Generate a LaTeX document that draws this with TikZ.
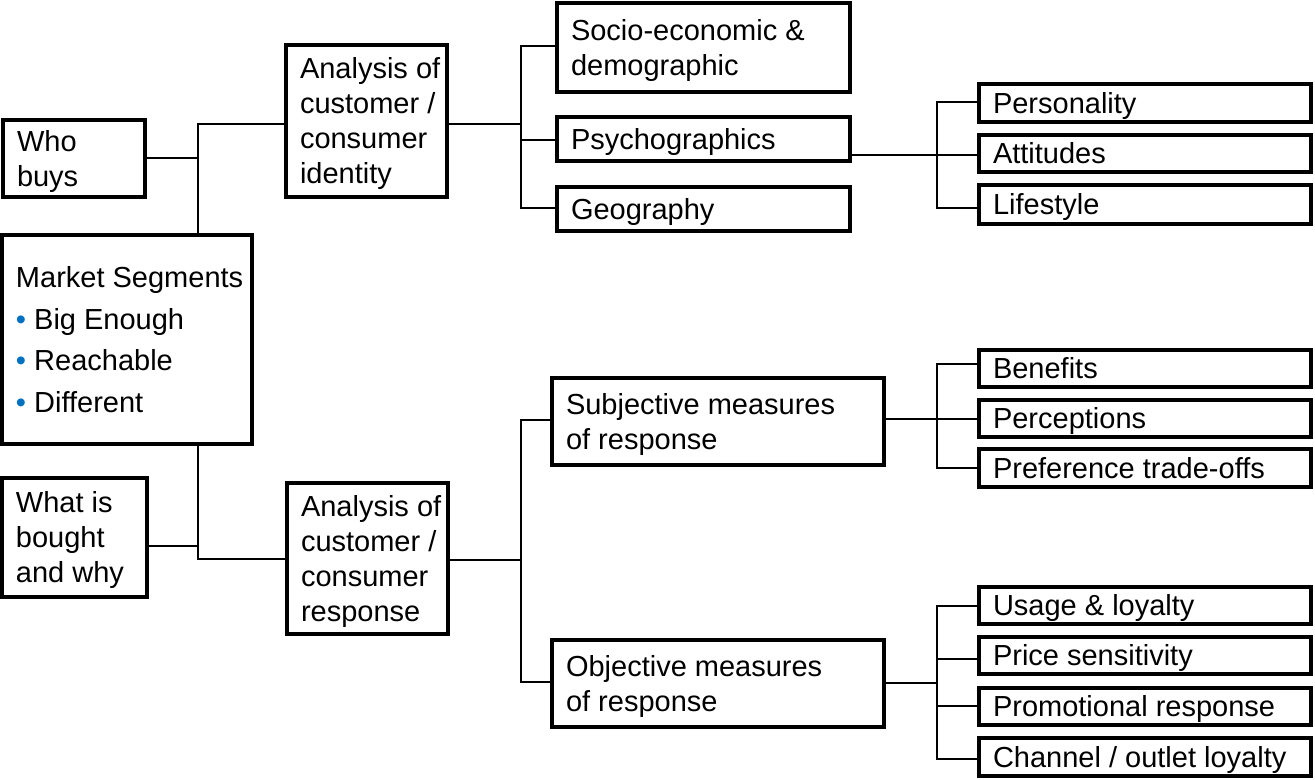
\documentclass[tikz,border=0pt]{standalone}
\usepackage{fontspec}
\setmainfont{Liberation Sans}
\definecolor{bulletblue}{HTML}{0070C0}
\newcommand\fs{\fontsize{21.75pt}{26.25pt}\selectfont}
\newcommand\fsm{\fontsize{21.75pt}{31.1pt}\selectfont}
\newcommand\lt[1]{\rule{0pt}{0.95em}#1\rule[-0.234em]{0pt}{0.234em}}
\tikzset{
  box/.style={draw=black, line width=3pt, fill=white, inner sep=0pt, outer sep=1.5pt},
  txt/.style={anchor=west, inner sep=0pt, outer sep=0pt, align=left, font=\fs},
  conn/.style={draw=black, line width=1.5pt},
  bul/.style={text=bulletblue}
}
\newcommand\bx[6]{%
  \node[box, minimum width={(#4-#2-4)*0.75pt}, minimum height={(#5-#3-4)*0.75pt}]
    (#1) at ({(#2+#4)/2},{(#3+#5)/2}) {};
  \node[txt] (#1t) at ([xshift=12pt]#1.west) {\lt{#6}};}
\newcommand\bul{{\color{bulletblue}•}}
\begin{document}
\begin{tikzpicture}[x=0.75pt,y=-0.75pt]
\useasboundingbox (0,0) rectangle (1315,780);

% connector coordinates
\coordinate (ja) at (198,124);
\coordinate (jb) at (198,158);
\coordinate (jc) at (198,546);
\coordinate (jd) at (198,559);
\coordinate (ka) at (521,124);
\coordinate (kb) at (521,46);
\coordinate (kc) at (521,140);
\coordinate (kd) at (521,208);
\coordinate (ma) at (937,155.5);
\coordinate (mb) at (937,102);
\coordinate (mc) at (937,208);
\coordinate (na) at (521,560);
\coordinate (nb) at (521,420);
\coordinate (nc) at (521,682);
\coordinate (pa) at (937,419);
\coordinate (pb) at (937,364);
\coordinate (pc) at (937,468);
\coordinate (qa) at (937,683);
\coordinate (qb) at (937,606);
\coordinate (qc) at (937,659);
\coordinate (qd) at (937,706);
\coordinate (qe) at (937,759);

% boxes
\bx{who}{1}{118}{147}{199}{Who\\buys}
\bx{ident}{284}{43}{449}{199}{Analysis of\\customer /\\consumer\\identity}
\node[box, minimum width={(254-0-4)*0.75pt}, minimum height={(446-233-4)*0.75pt}]
  (mkt) at ({254/2},{(233+446)/2}) {};
\node[txt, font=\fsm] (mktt) at ([xshift=12pt]mkt.west)
  {\lt{Market Segments\\\bul{} Big Enough\\\bul{} Reachable\\\bul{} Different}};
\bx{what}{0}{476}{149}{599}{What is\\bought\\and why}
\bx{resp}{285}{481}{450}{636}{Analysis of\\customer /\\consumer\\response}
\bx{socio}{555}{1}{852}{94}{Socio-economic \&\\demographic}
\bx{psy}{555}{115}{852}{163}{Psychographics}
\bx{geo}{555}{185}{852}{233}{Geography}
\bx{pers}{977}{82}{1313}{124}{Personality}
\bx{att}{977}{133}{1313}{174}{Attitudes}
\bx{life}{977}{183}{1313}{226}{Lifestyle}
\bx{subj}{550}{376}{886}{467}{Subjective measures\\of response}
\bx{obj}{550}{638}{886}{729}{Objective measures\\of response}
\bx{ben}{977}{348}{1313}{389}{Benefits}
\bx{perc}{977}{398}{1313}{439}{Perceptions}
\bx{pref}{977}{447}{1313}{489}{Preference trade-offs}
\bx{usage}{977}{585}{1313}{626}{Usage \& loyalty}
\bx{price}{977}{635}{1313}{676}{Price sensitivity}
\bx{promo}{977}{686}{1313}{727}{Promotional response}
\bx{chan}{977}{736}{1313}{778}{Channel / outlet loyalty}

% connectors
\draw[conn] (ja -| ident.west) -- (ja) -- (ja |- mkt.north);
\draw[conn] (jb -| who.east) -- (jb);
\draw[conn] (jd -| resp.west) -- (jd) -- (jd |- mkt.south);
\draw[conn] (jc -| what.east) -- (jc);

\draw[conn] (ka -| ident.east) -- (ka);
\draw[conn] (kb -| socio.west) -- (kb) -- (kd) -- (kd -| geo.west);
\draw[conn] (kc) -- (kc -| psy.west);

\draw[conn] (ma -| psy.east) -- (ma -| att.west);
\draw[conn] (mb -| pers.west) -- (mb) -- (mc) -- (mc -| life.west);

\draw[conn] (na -| resp.east) -- (na);
\draw[conn] (nb -| subj.west) -- (nb) -- (nc) -- (nc -| obj.west);

\draw[conn] (pa -| subj.east) -- (pa -| perc.west);
\draw[conn] (pb -| ben.west) -- (pb) -- (pc) -- (pc -| pref.west);

\draw[conn] (qa -| obj.east) -- (qa);
\draw[conn] (qb -| usage.west) -- (qb) -- (qe) -- (qe -| chan.west);
\draw[conn] (qc) -- (qc -| price.west);
\draw[conn] (qd) -- (qd -| promo.west);
\end{tikzpicture}
\end{document}
